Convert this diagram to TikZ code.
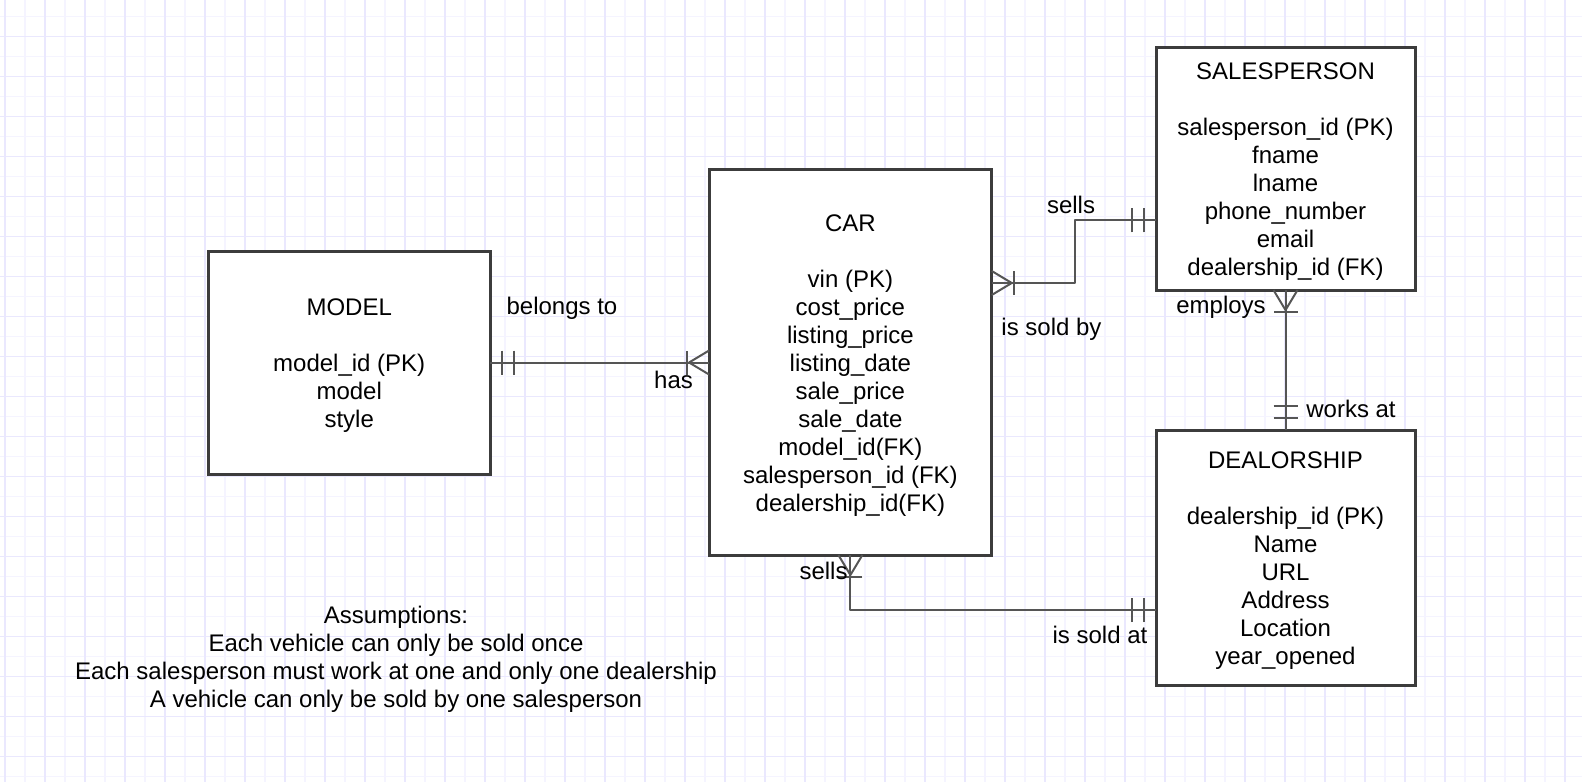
\documentclass[tikz,border=0pt]{standalone}
\usepackage{fontspec}
\setmainfont{Liberation Sans}
\usetikzlibrary{calc}

\definecolor{gridmajor}{RGB}{234,232,254}
\definecolor{gridminor}{RGB}{245,244,255}
\definecolor{boxline}{RGB}{60,60,60}
\definecolor{relline}{RGB}{85,85,85}

% taller first line, to set the attribute block a little lower in its box
\newcommand\headstrut{\rule{0pt}{23pt}}

\tikzset{
  entity/.style={draw=boxline, line width=3pt, fill=white, inner sep=0pt,
    outer sep=0pt, align=center, font=\fontsize{24}{28}\selectfont},
  rel/.style={draw=relline, line width=2pt, line join=round},
  lbl/.style={font=\fontsize{24}{28}\selectfont, inner sep=0pt, anchor=base},
  % crow's foot with a bar: one or many
  ermany/.pic={
    \draw[rel] (0,-12) -- (20,0) -- (0,12);
    \draw[rel] (22,-12) -- (22,12);
  },
  % two bars: one and only one
  erone/.pic={
    \draw[rel] (12,-12) -- (12,12);
    \draw[rel] (24,-12) -- (24,12);
  }
}

\begin{document}
\begin{tikzpicture}[x=1pt,y=-1pt]
\useasboundingbox (0,0) rectangle (1582,782);
\fill[white] (0,0) rectangle (1582,782);

% background grid
\foreach \x in {25,65,...,1585}
  \draw[gridminor, line width=1.5pt] (\x,0) -- (\x,782);
\foreach \y in {16.7,56.7,...,790}
  \draw[gridminor, line width=1.5pt] (0,\y) -- (1582,\y);
\foreach \x in {5,45,...,1585}
  \draw[gridmajor, line width=1.5pt] (\x,0) -- (\x,782);
\foreach \y in {36.7,76.7,...,790}
  \draw[gridmajor, line width=1.5pt] (0,\y) -- (1582,\y);

% entities
\node[entity, minimum width=281.7pt, minimum height=223pt] (model) at (349.2,362.5)
  {\headstrut MODEL\\[28pt]model\_id (PK)\\model\\style};
\node[entity, minimum width=282.7pt, minimum height=386pt] (car) at (850.4,362)
  {\headstrut CAR\\[28pt]vin (PK)\\cost\_price\\listing\_price\\listing\_date\\sale\_price\\sale\_date\\model\_id(FK)\\salesperson\_id (FK)\\dealership\_id(FK)};
\node[entity, minimum width=259pt, minimum height=242.7pt] (sp) at (1285.5,168.7)
  {\headstrut SALESPERSON\\[28pt]salesperson\_id (PK)\\fname\\lname\\phone\_number\\email\\dealership\_id (FK)};
\node[entity, minimum width=259pt, minimum height=255pt] (dl) at (1285.5,557.5)
  {\headstrut DEALORSHIP\\[28pt]dealership\_id (PK)\\Name\\URL\\Address\\Location\\year\_opened};

% connector end points on the entity borders
\coordinate (carR) at ($(car.north east)+(0,114)$);
\coordinate (spL) at ($(sp.north west)+(0,173)$);
\coordinate (dlL) at ($(dl.north west)+(0,180)$);

% MODEL -- CAR
\draw[rel] (model.east) -- (model.east -| car.west);
\pic at (model.east) {erone};
\pic[rotate=180] at (model.east -| car.west) {ermany};

% CAR -- SALESPERSON
\draw[rel] (carR) -- ++(83,0) |- (spL);
\pic at (carR) {ermany};
\pic[rotate=180] at (spL) {erone};

% SALESPERSON -- DEALORSHIP
\draw[rel] (sp.south) -- (dl.north);
\pic[rotate=-90] at (sp.south) {ermany};
\pic[rotate=90] at (dl.north) {erone};

% CAR -- DEALORSHIP
\draw[rel] (car.south) |- (dlL);
\pic[rotate=-90] at (car.south) {ermany};
\pic[rotate=180] at (dlL) {erone};

% relationship labels
\node[lbl] (belongs) at (562,314) {belongs to};
\node[lbl] (has) at (673.5,388) {has};
\node[lbl] (sellsTop) at (1071,213) {sells};
\node[lbl] (soldBy) at (1051.5,335) {is sold by};
\node[lbl] (employs) at (1221,313) {employs};
\node[lbl] (worksAt) at (1351,417) {works at};
\node[lbl] (sellsBot) at (823.5,579) {sells};
\node[lbl] (soldAt) at (1100,643) {is sold at};

% notes
\node[lbl, align=center, anchor=north] (notes) at (396,606.3)
  {Assumptions:\\Each vehicle can only be sold once\\Each salesperson must work at one and only one dealership\\A vehicle can only be sold by one salesperson};
\end{tikzpicture}
\end{document}
